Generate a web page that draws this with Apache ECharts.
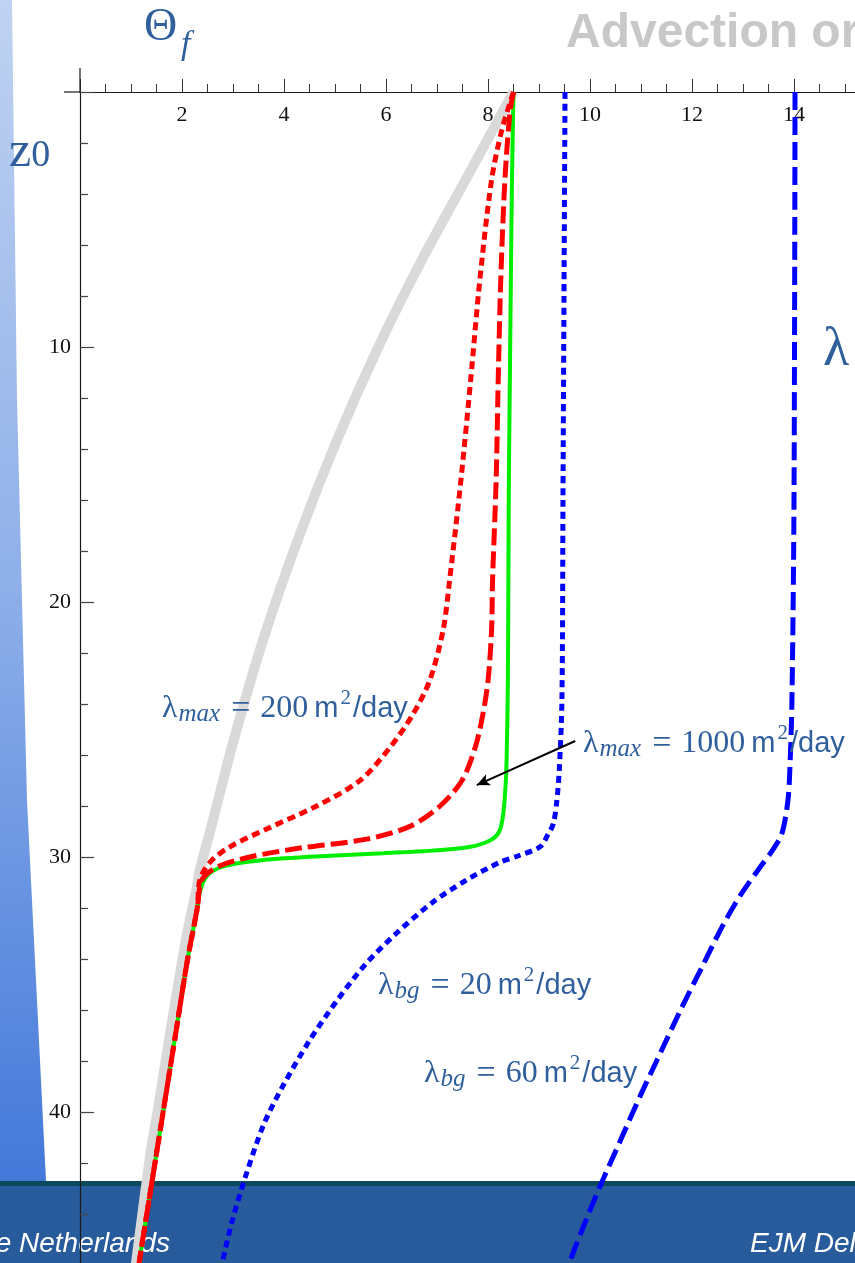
<!DOCTYPE html>
<html>
<head>
<meta charset="utf-8">
<script src="https://cdn.jsdelivr.net/npm/echarts@6/dist/echarts.min.js"></script>
<style>
  html, body { margin: 0; padding: 0; background: #ffffff; }
  #chart { width: 855px; height: 1263px; }
</style>
</head>
<body>
<div id="chart"></div>
<script>
// Temperature profiles Θ_f against depth z0: each point is [Θ_f, z0]
const pureAdvection = [
  [8.5, 0], [7.6, 3.3], [6.7, 6.6], [5.85, 10.0], [5.05, 13.6], [4.3, 17.4],
  [3.62, 21.3], [3.03, 25.3], [2.55, 29.0], [2.35, 30.5], [2.29, 31.2], [2.1, 33],
  [1.8, 36.5], [1.52, 40], [1.39, 41.5], [1.1, 45.9], [1.0, 47.5]
];
const sharpFront = [
  [8.5, 0], [8.47, 3.5], [8.45, 7], [8.43, 11], [8.41, 15], [8.4, 19], [8.39, 23],
  [8.37, 25.7], [8.35, 27], [8.3, 28.3], [8.22, 29], [8.04, 29.35], [7.6, 29.62],
  [6.9, 29.75], [5.95, 29.85], [4.9, 29.95], [4.0, 30.05], [3.33, 30.18], [2.85, 30.35],
  [2.6, 30.55], [2.45, 30.85], [2.36, 31.3], [2.3, 32], [2.11, 34], [1.87, 37],
  [1.63, 40], [1.43, 42.5], [1.16, 45.9], [1.05, 47.5]
];
const lambdaMax200 = [
  [8.5, 0], [8.27, 1.5], [8.07, 3.45], [7.84, 7.37], [7.66, 11.3], [7.47, 15.2],
  [7.25, 19.1], [7.12, 21.1], [6.86, 23.06], [6.53, 24.4], [6.08, 25.7], [5.49, 27.0],
  [4.64, 28.0], [3.66, 28.9], [2.94, 29.6], [2.55, 30.2], [2.35, 30.9], [2.3, 32],
  [2.11, 34], [1.87, 37], [1.63, 40], [1.43, 42.5], [1.16, 45.9], [1.05, 47.5]
];
const lambdaMax1000 = [
  [8.5, 0], [8.43, 0.8], [8.33, 3.5], [8.25, 7.4], [8.2, 11.3], [8.16, 15.2],
  [8.09, 19.1], [8.07, 21.1], [8.0, 23.1], [7.9, 24.4], [7.75, 25.7], [7.49, 27.0],
  [7.06, 28.0], [6.47, 28.8], [5.62, 29.3], [4.31, 29.65], [3.33, 30.0], [2.68, 30.4],
  [2.39, 30.9], [2.3, 32], [2.11, 34], [1.87, 37], [1.63, 40], [1.43, 42.5],
  [1.16, 45.9], [1.05, 47.5]
];
const lambdaBg20 = [
  [9.51, 0], [9.49, 8], [9.47, 16], [9.45, 23.8], [9.4, 26.5], [9.35, 27.8],
  [9.28, 28.7], [9.18, 29.1], [9.02, 29.6], [8.6, 29.95], [8.24, 30.2], [7.58, 30.9],
  [6.9, 31.8], [6.2, 33.0], [5.6, 34.2], [5.05, 35.6], [4.5, 37.2], [4.0, 38.9],
  [3.6, 40.5], [3.25, 42.5], [2.98, 44.3], [2.79, 45.9], [2.62, 47.5]
];
const lambdaBg60 = [
  [14.02, 0], [14.0, 16], [13.96, 23.8], [13.92, 26.5], [13.88, 27.8], [13.76, 29.1],
  [13.59, 29.7], [13.3, 30.5], [12.95, 31.5], [12.6, 32.7], [12.2, 34.3], [11.8, 35.9],
  [11.4, 37.6], [11.0, 39.3], [10.6, 41.1], [10.2, 42.9], [9.85, 44.6], [9.55, 46.2],
  [9.4, 47.5]
];
// Pointer from the λmax = 1000 label to its curve
const pointerFrom = [9.71, 25.45];
const pointerTo = [7.78, 27.18];

// Tick labels
const thetaLabels = [2, 4, 6, 8, 10, 12, 14, 16];
const depthLabels = [10, 20, 30, 40];

const BLUE_TEXT = '#2f5f9d';
const SERIF = '"Liberation Serif", "DejaVu Serif", serif';
const SANS = '"Liberation Sans", Arial, sans-serif';

function labelRich() {
  return {
    l: { fontFamily: SERIF, fontSize: 32, fill: BLUE_TEXT, lineHeight: 40 },
    s: { fontFamily: SERIF, fontSize: 25, fontStyle: 'italic', fill: BLUE_TEXT, lineHeight: 40, padding: [10, 0, 0, 1] },
    e: { fontFamily: SERIF, fontSize: 34, fill: BLUE_TEXT, lineHeight: 40, padding: [0, 10, 0, 11] },
    n: { fontFamily: SERIF, fontSize: 32, fill: BLUE_TEXT, lineHeight: 40, padding: [0, 6, 0, 0] },
    m: { fontFamily: SANS, fontSize: 29, fill: BLUE_TEXT, lineHeight: 40 },
    p: { fontFamily: SERIF, fontSize: 21, fill: BLUE_TEXT, lineHeight: 40, padding: [0, 2, 22, 2] }
  };
}
function lambdaLabel(x, y, sub, num) {
  return {
    type: 'text', x: x, y: y, z: 50,
    style: {
      text: '{l|λ}{s|' + sub + '}{e|=}{n|' + num + '}{m|m}{p|2}{m|/day}',
      rich: labelRich(),
      align: 'left', verticalAlign: 'middle'
    }
  };
}
function plainText(x, y, text, font, fill, align, z) {
  return {
    type: 'text', x: x, y: y, z: z, silent: true,
    style: { text: text, font: font, fill: fill, align: align, verticalAlign: 'middle' }
  };
}

const chart = echarts.init(document.getElementById('chart'), null, { renderer: 'canvas' });

const option = {
  backgroundColor: '#ffffff',
  animation: false,
  grid: { left: 80, top: 92, width: 816, height: 1275, containLabel: false, outerBoundsMode: 'none' },
  xAxis: {
    type: 'value', position: 'top', min: 0, max: 16, interval: 2,
    axisLine: { show: true, onZero: false, lineStyle: { color: '#1a1a1a', width: 1.2 } },
    axisTick: { show: true, inside: false, length: 13, lineStyle: { color: '#333', width: 1 } },
    minorTick: { show: true, splitNumber: 4, length: 8, lineStyle: { color: '#333', width: 1 } },
    axisLabel: {
      inside: true, margin: 12, color: '#111', fontFamily: SERIF, fontSize: 22,
      formatter: v => (thetaLabels.includes(v) ? String(v) : '')
    },
    splitLine: { show: false }, minorSplitLine: { show: false }
  },
  yAxis: {
    type: 'value', inverse: true, min: 0, max: 50, interval: 10,
    axisLine: { show: true, onZero: false, lineStyle: { color: '#1a1a1a', width: 1.2 } },
    axisTick: { show: true, inside: true, length: 14, lineStyle: { color: '#444', width: 1.2 } },
    minorTick: { show: true, splitNumber: 5, length: 8, lineStyle: { color: '#444', width: 1.2 } },
    axisLabel: {
      margin: 9, color: '#111', fontFamily: SERIF, fontSize: 22,
      formatter: v => (depthLabels.includes(v) ? String(v) : '')
    },
    splitLine: { show: false }, minorSplitLine: { show: false }
  },
  series: [
    {
      name: 'advection', type: 'line', data: pureAdvection, showSymbol: false, smooth: 0.3,
      lineStyle: { color: '#d9d9d9', width: 10 }, z: 2
    },
    {
      name: 'lambdaBg20', type: 'line', data: lambdaBg20, showSymbol: false, smooth: 0.3,
      lineStyle: { color: '#0000ff', width: 5, type: [7, 5] }, z: 3
    },
    {
      name: 'lambdaBg60', type: 'line', data: lambdaBg60, showSymbol: false, smooth: 0.3,
      lineStyle: { color: '#0000ff', width: 5, type: [18, 7] }, z: 3
    },
    {
      name: 'sharpFront', type: 'line', data: sharpFront, showSymbol: false, smooth: 0.3,
      lineStyle: { color: '#00ee00', width: 4 }, z: 4
    },
    {
      name: 'lambdaMax200', type: 'line', data: lambdaMax200, showSymbol: false, smooth: 0.3,
      lineStyle: { color: '#ff0000', width: 5, type: [8, 5] }, z: 5
    },
    {
      name: 'lambdaMax1000', type: 'line', data: lambdaMax1000, showSymbol: false, smooth: 0.3,
      lineStyle: { color: '#ff0000', width: 5, type: [17, 6] }, z: 6,
      markLine: {
        silent: true, symbol: ['none', 'arrow'], symbolSize: [9, 13],
        label: { show: false },
        lineStyle: { color: '#000000', width: 2, type: 'solid' },
        data: [[{ coord: pointerFrom }, { coord: pointerTo }]]
      }
    }
  ],
  graphic: [
    // slide backdrop
    {
      type: 'polygon', z: -20, silent: true,
      shape: { points: [[0, 0], [12, 0], [17, 400], [27, 800], [46, 1181], [0, 1181]] },
      style: {
        fill: new echarts.graphic.LinearGradient(0, 0, 0, 1, [
          { offset: 0, color: '#bfd2f1' },
          { offset: 0.5, color: '#8eafe9' },
          { offset: 1, color: '#4479da' }
        ])
      }
    },
    { type: 'rect', z: -20, silent: true, shape: { x: 0, y: 1181, width: 855, height: 82 }, style: { fill: '#285b9b' } },
    { type: 'rect', z: -19, silent: true, shape: { x: 0, y: 1181, width: 855, height: 5 }, style: { fill: '#0b4a5a' } },
    plainText(170, 1244, 'The Netherlands', 'italic 28px ' + SANS, '#ffffff', 'right', -15),
    plainText(750, 1244, 'EJM Delhez', 'italic 28px ' + SANS, '#ffffff', 'left', -15),
    // axis stubs beyond the origin
    { type: 'line', z: 10, silent: true, shape: { x1: 64, y1: 92, x2: 80, y2: 92 }, style: { stroke: '#1a1a1a', lineWidth: 1.2 } },
    { type: 'line', z: 10, silent: true, shape: { x1: 80, y1: 68, x2: 80, y2: 92 }, style: { stroke: '#1a1a1a', lineWidth: 1.2 } },
    // headings
    plainText(566, 34, 'Advection or', 'bold 48px ' + SANS, '#c8c8c8', 'left', 20),
    plainText(144, 28, 'Θ', '46px ' + SERIF, BLUE_TEXT, 'left', 20),
    plainText(181, 45, 'f', 'italic 34px ' + SERIF, BLUE_TEXT, 'left', 20),
    {
      type: 'text', x: 9, y: 153, z: 20, silent: true,
      style: {
        text: '{z|z}{d|0}',
        rich: {
          z: { fontFamily: SERIF, fontSize: 50, fill: BLUE_TEXT, lineHeight: 50 },
          d: { fontFamily: SERIF, fontSize: 38, fill: BLUE_TEXT, lineHeight: 50, padding: [6, 0, 0, 0] }
        },
        align: 'left', verticalAlign: 'middle'
      }
    },
    plainText(823, 351, 'λ', '54px ' + SERIF, BLUE_TEXT, 'left', 20),
    // curve annotations
    lambdaLabel(162, 709, 'max', '200'),
    lambdaLabel(583, 744, 'max', '1000'),
    lambdaLabel(378, 986, 'bg', '20'),
    lambdaLabel(424, 1074, 'bg', '60')
  ]
};

chart.setOption(option);
</script>
</body>
</html>
